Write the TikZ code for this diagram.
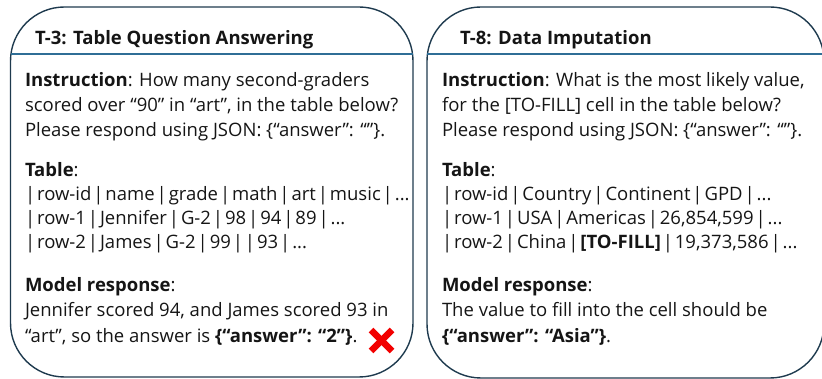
\documentclass[tikz,border=0pt]{standalone}
\usepackage{fontspec}
\setmainfont{Open Sans}
\newfontfamily\tabfont{Open Sans}[WordSpace=0.4]
\definecolor{boxcol}{HTML}{1E3A4E}
\definecolor{sepcol}{HTML}{2F6E96}
\definecolor{txt}{HTML}{151515}
\definecolor{xred}{HTML}{F20000}
\tikzset{
  panel/.style={draw=boxcol, line width=1.4pt, rounded corners=54pt},
  sepline/.style={draw=sepcol, line width=1.1pt},
  ln/.style={inner sep=0pt, outer sep=0pt, anchor=base west, text=txt, font=\fontsize{18.5}{20}\selectfont},
  tab/.style={ln, font=\fontsize{18.5}{20}\tabfont},
  ttl/.style={ln, font=\fontsize{18.5}{20}\selectfont\bfseries},
  xmark/.style={draw=xred, line width=6.5pt}
}
\begin{document}
\begin{tikzpicture}[x=1pt,y=-1pt]
\useasboundingbox (0,0) rectangle (822,379);
% left panel
\draw[panel] (10.5,7) rectangle (413,377);
\coordinate (l1) at (10.5,54);
\coordinate (l2) at (413,54);
\draw[sepline] (l1) -- (l2);
% right panel
\draw[panel] (427,7) rectangle (824,378);
\coordinate (r1) at (427,54);
\coordinate (r2) at (824,54);
\draw[sepline] (r1) -- (r2);

% left text
\node[ttl] (lt) at (35,45) {T-3: Table Question Answering};
\node[ln] (la1) at (25,87) {\textbf{Instruction}: How many second-graders};
\node[ln] (la2) at (25,112) {scored over “90” in “art”, in the table below?};
\node[ln] (la3) at (25,137) {Please respond using JSON: \{“answer”: “”\}.};
\node[ln] (lb0) at (25,177) {\textbf{Table}:};
\node[tab] (lb1) at (25,201) {| row-id | name | grade | math | art | music | ...};
\node[tab] (lb2) at (25,225) {| row-1 | Jennifer | G-2 | 98 | 94 | 89 | ...};
\node[tab] (lb3) at (25,249) {| row-2 | James | G-2 | 99 | | 93 | ...};
\node[ln] (lc0) at (25,292) {\textbf{Model response}:};
\node[ln] (lc1) at (25,317) {Jennifer scored 94, and James scored 93 in};
\node[ln] (lc2) at (25,342) {“art”, so the answer is \textbf{\{“answer”: “2”\}}.};
\coordinate (xa) at (371,330);
\coordinate (xb) at (392,351);
\coordinate (xc) at (392,330);
\coordinate (xd) at (371,351);
\draw[xmark] (xa) -- (xb);
\draw[xmark] (xc) -- (xd);

% right text
\node[ttl] (rt) at (460,45) {T-8: Data Imputation};
\node[ln] (ra1) at (442,87) {\textbf{Instruction}: What is the most likely value,};
\node[ln] (ra2) at (442,112) {for the [TO-FILL] cell in the table below?};
\node[ln] (ra3) at (442,137) {Please respond using JSON: \{“answer”: “”\}.};
\node[ln] (rb0) at (442,177) {\textbf{Table}:};
\node[tab] (rb1) at (442,201) {| row-id | Country | Continent | GPD | ...};
\node[tab] (rb2) at (442,225) {| row-1 | USA | Americas | 26,854,599 | ...};
\node[tab] (rb3) at (442,249) {| row-2 | China | \textbf{[TO-FILL]} | 19,373,586 | ...};
\node[ln] (rc0) at (442,292) {\textbf{Model response}:};
\node[ln] (rc1) at (442,317) {The value to fill into the cell should be};
\node[ln] (rc2) at (442,342) {\textbf{\{“answer”: “Asia”\}}.};
\end{tikzpicture}
\end{document}
